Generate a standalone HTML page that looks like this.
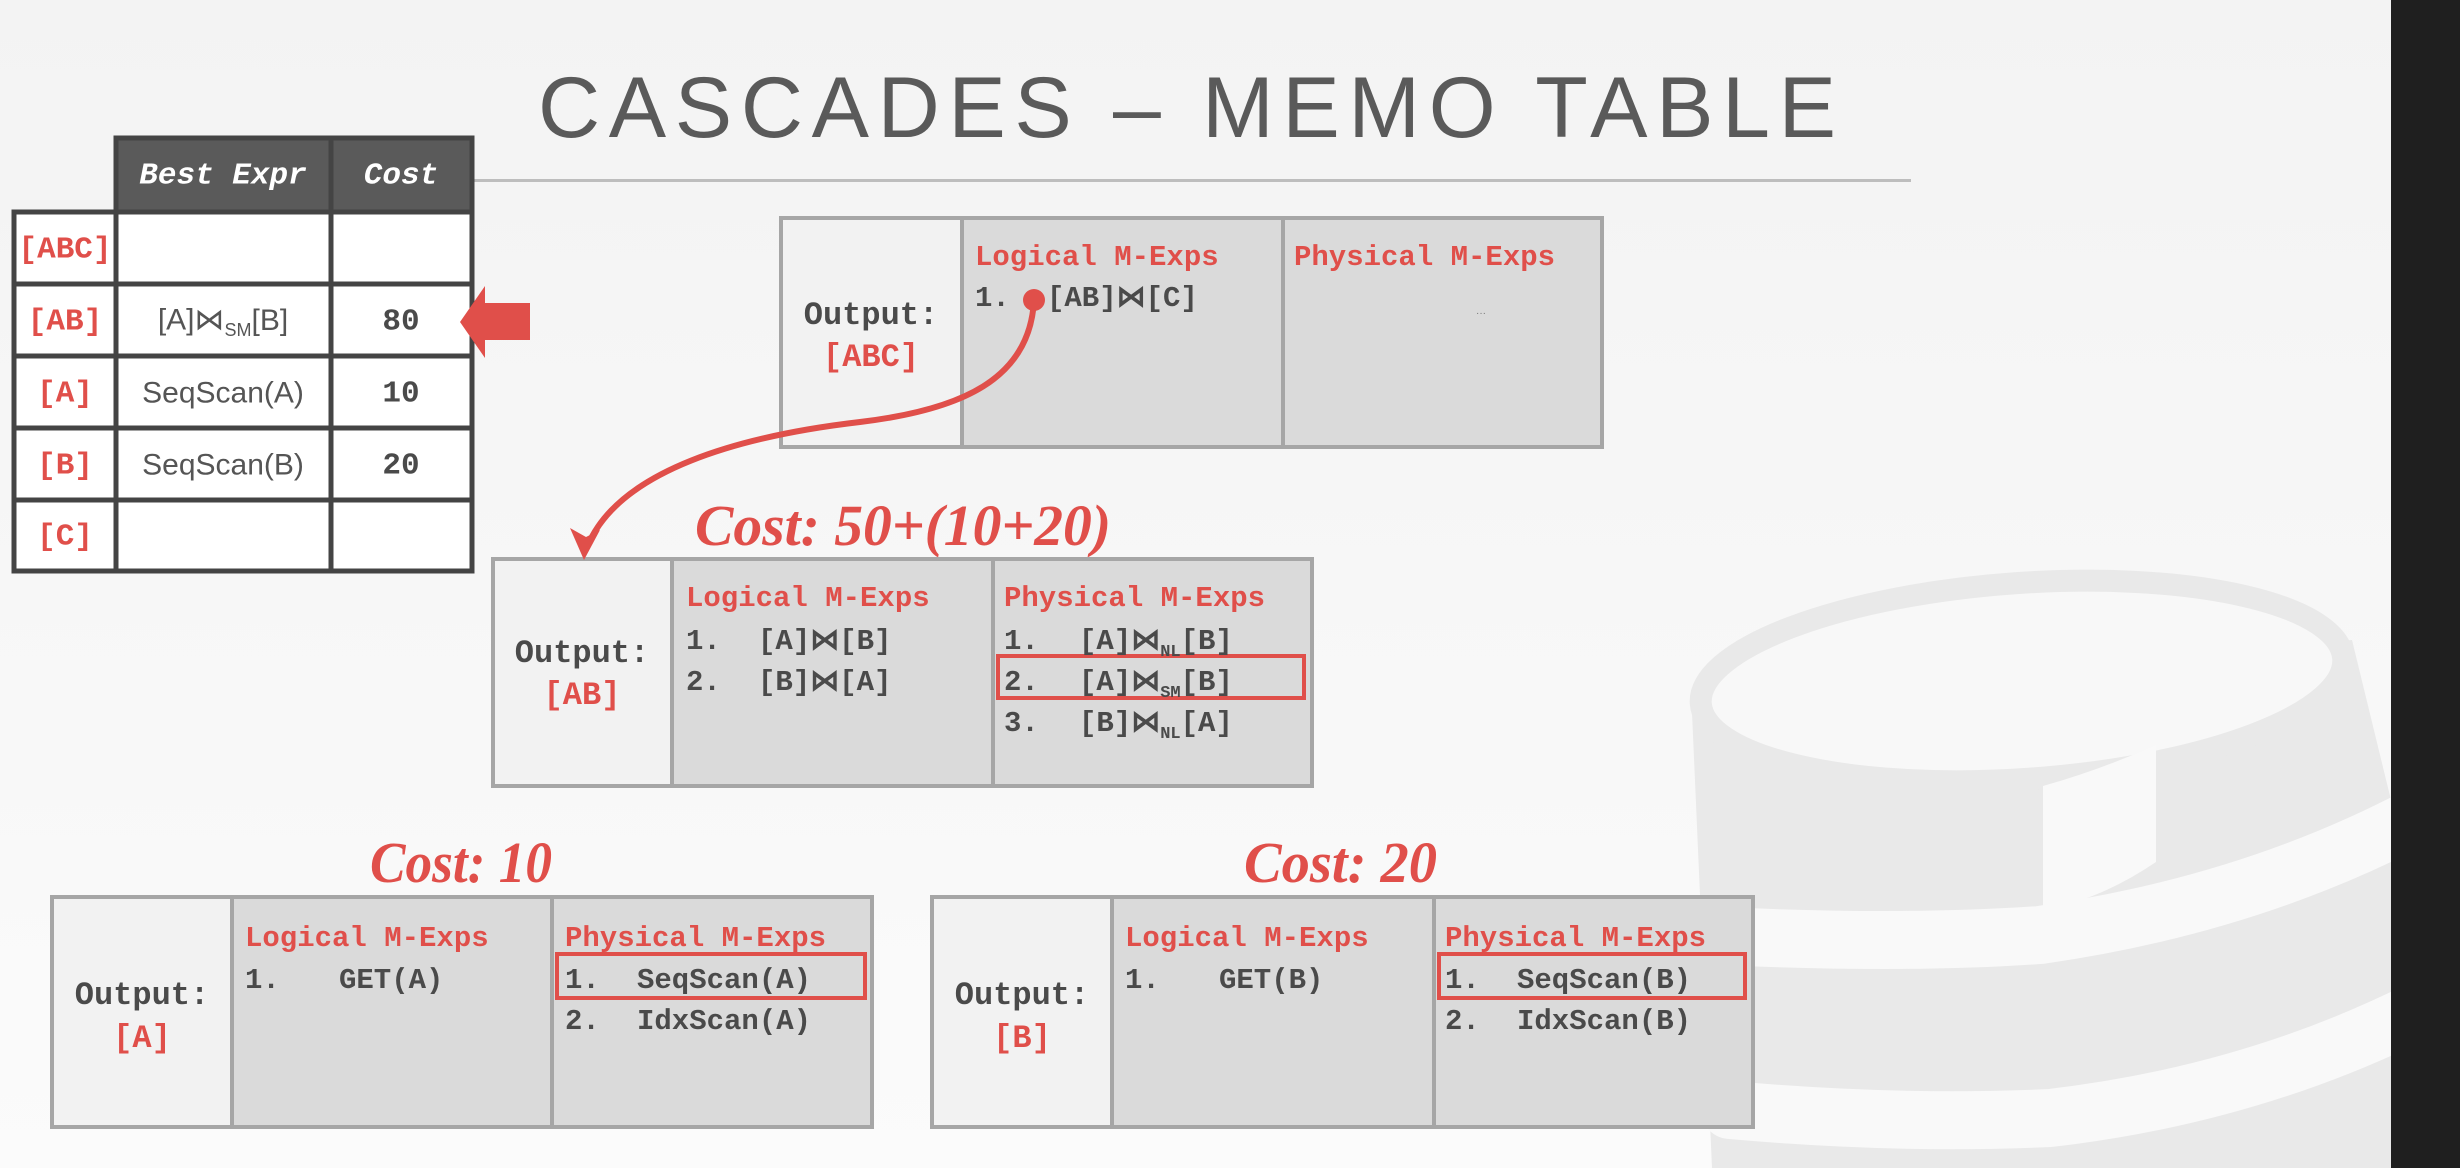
<!DOCTYPE html>
<html><head><meta charset="utf-8"><style>
html,body{margin:0;padding:0;}
body{width:2460px;height:1168px;overflow:hidden;background:#f7f7f7;}
svg{display:block;}
.m{font-family:"Liberation Mono","DejaVu Sans Mono",monospace;font-weight:bold;font-size:29px;}
.o{font-size:32px;}
.r{fill:#e04f4a;}
.g{fill:#4a4a4a;}
.c{font-family:"Liberation Serif",serif;font-weight:bold;font-style:italic;font-size:58px;fill:#e04f4a;}
</style></head><body>
<svg width="2460" height="1168" viewBox="0 0 2460 1168" xmlns="http://www.w3.org/2000/svg">
<defs>
<linearGradient id="bg" x1="0" y1="0" x2="0" y2="1"><stop offset="0" stop-color="#f3f3f3"/><stop offset="1" stop-color="#fbfbfb"/></linearGradient>
</defs>
<rect width="2460" height="1168" fill="url(#bg)"/>
<!-- watermark -->
<path d="M1691 690 L1712 1168 L2391 1168 L2391 800 L2352 640 Z" fill="#e9e9e9"/>
<ellipse cx="2022" cy="681" rx="322" ry="98" transform="rotate(-4 2022 681)" fill="#f8f8f8" stroke="#e9e9e9" stroke-width="22"/>
<g fill="none" stroke="#f9f9f9" stroke-width="58" stroke-linecap="round">
<path d="M1700 935 Q1900 945 2040 935 Q2250 905 2420 815"/>
<path d="M1730 1110 Q1900 1125 2050 1118 Q2250 1095 2420 1010"/>
</g>
<path d="M2043 786 L2043 910 Q2100 900 2156 862 L2156 745 Q2100 770 2043 786 Z" fill="#f9f9f9"/>
<rect x="2391" y="0" width="69" height="1168" fill="#1f1f1f"/>
<!-- title -->
<text x="538" y="137" textLength="1298" font-family="Liberation Sans,sans-serif" font-size="86" fill="#5a5a5a" lengthAdjust="spacing">CASCADES – MEMO TABLE</text>
<rect x="470" y="179" width="1441" height="3" fill="#bdbdbd"/>

<!-- memo table -->
<rect x="116" y="138" width="356" height="74" fill="#5a5a5a"/>
<rect x="14" y="212" width="458" height="359" fill="#fff"/>
<g stroke="#444" stroke-width="5" fill="none">
<rect x="116" y="138" width="356" height="433"/>
<rect x="14" y="212" width="458" height="359"/>
<line x1="116" y1="212" x2="116" y2="571"/>
<line x1="331" y1="138" x2="331" y2="571"/>
<line x1="14" y1="284" x2="472" y2="284"/>
<line x1="14" y1="356" x2="472" y2="356"/>
<line x1="14" y1="428" x2="472" y2="428"/>
<line x1="14" y1="500" x2="472" y2="500"/>
</g>
<g class="m" text-anchor="middle" dominant-baseline="central">
<text x="223" y="176" fill="#fff" font-style="italic" font-size="31">Best Expr</text>
<text x="401" y="176" fill="#fff" font-style="italic" font-size="31">Cost</text>
<text x="65" y="250" class="r" font-size="31">[ABC]</text>
<text x="65" y="322" class="r" font-size="31">[AB]</text>
<text x="65" y="394" class="r" font-size="31">[A]</text>
<text x="65" y="466" class="r" font-size="31">[B]</text>
<text x="65" y="537" class="r" font-size="31">[C]</text>
<text x="401" y="322" class="g" font-size="31">80</text>
<text x="401" y="394" class="g" font-size="31">10</text>
<text x="401" y="466" class="g" font-size="31">20</text>
</g>
<g font-family="Liberation Sans,DejaVu Sans,sans-serif" font-size="30" fill="#555" text-anchor="middle" dominant-baseline="central">
<text x="223" y="320">[A]⋈<tspan font-size="18" dy="10">SM</tspan><tspan dy="-10">[B]</tspan></text>
<text x="223" y="393">SeqScan(A)</text>
<text x="223" y="465">SeqScan(B)</text>
</g>
<polygon points="460,322 485,286 485,303 530,303 530,340 485,340 485,358" fill="#e04f4a"/>

<!-- ABC box -->
<rect x="781" y="218" width="181" height="229" fill="#f2f2f2"/>
<rect x="962" y="218" width="640" height="229" fill="#dadada"/>
<g stroke="#a6a6a6" stroke-width="4" fill="none"><rect x="781" y="218" width="821" height="229"/><line x1="962" y1="218" x2="962" y2="447"/><line x1="1283" y1="218" x2="1283" y2="447"/></g>
<g class="m">
<text x="871" y="324" text-anchor="middle" class="g o">Output:</text>
<text x="871" y="366" text-anchor="middle" class="r o">[ABC]</text>
<text x="975" y="265" class="r">Logical M-Exps</text>
<text x="1294" y="265" class="r">Physical M-Exps</text>
<text x="975" y="306" class="g">1.</text>
<text x="1047" y="306" class="g">[AB]⋈[C]</text>
</g>
<text x="1476" y="316" font-size="10" fill="#777" font-family="Liberation Sans,sans-serif">···</text>

<!-- AB box -->
<text x="695" y="545" class="c" textLength="416" lengthAdjust="spacingAndGlyphs">Cost: 50+(10+20)</text>
<rect x="493" y="559" width="179" height="227" fill="#f2f2f2"/>
<rect x="672" y="559" width="640" height="227" fill="#dadada"/>
<g stroke="#a6a6a6" stroke-width="4" fill="none"><rect x="493" y="559" width="819" height="227"/><line x1="672" y1="559" x2="672" y2="786"/><line x1="993" y1="559" x2="993" y2="786"/></g>
<rect x="998" y="656" width="306" height="42" fill="none" stroke="#e04f4a" stroke-width="4"/>
<g class="m">
<text x="582" y="662" text-anchor="middle" class="g o">Output:</text>
<text x="582" y="704" text-anchor="middle" class="r o">[AB]</text>
<text x="686" y="606" class="r">Logical M-Exps</text>
<text x="686" y="649" class="g">1.</text><text x="758" y="649" class="g">[A]⋈[B]</text>
<text x="686" y="690" class="g">2.</text><text x="758" y="690" class="g">[B]⋈[A]</text>
<text x="1004" y="606" class="r">Physical M-Exps</text>
<text x="1004" y="649" class="g">1.</text><text x="1079" y="649" class="g">[A]⋈<tspan font-size="17" dy="7">NL</tspan><tspan dy="-7">[B]</tspan></text>
<text x="1004" y="690" class="g">2.</text><text x="1079" y="690" class="g">[A]⋈<tspan font-size="17" dy="7">SM</tspan><tspan dy="-7">[B]</tspan></text>
<text x="1004" y="731" class="g">3.</text><text x="1079" y="731" class="g">[B]⋈<tspan font-size="17" dy="7">NL</tspan><tspan dy="-7">[A]</tspan></text>
</g>

<path d="M1034 300 C1030 380 960 410 860 422 C740 436 620 470 588 545" fill="none" stroke="#e04f4a" stroke-width="6"/>
<circle cx="1034" cy="300" r="11" fill="#e04f4a"/>
<polygon points="584,560 570,528 586,537 600,530" fill="#e04f4a"/>

<!-- A box -->
<text x="370" y="882" class="c" textLength="182" lengthAdjust="spacingAndGlyphs">Cost: 10</text>
<rect x="52" y="897" width="180" height="230" fill="#f2f2f2"/>
<rect x="232" y="897" width="640" height="230" fill="#dadada"/>
<g stroke="#a6a6a6" stroke-width="4" fill="none"><rect x="52" y="897" width="820" height="230"/><line x1="232" y1="897" x2="232" y2="1127"/><line x1="552" y1="897" x2="552" y2="1127"/></g>
<rect x="557" y="954" width="308" height="44" fill="none" stroke="#e04f4a" stroke-width="4"/>
<g class="m">
<text x="142" y="1004" text-anchor="middle" class="g o">Output:</text>
<text x="142" y="1047" text-anchor="middle" class="r o">[A]</text>
<text x="245" y="946" class="r">Logical M-Exps</text>
<text x="245" y="988" class="g">1.</text><text x="339" y="988" class="g">GET(A)</text>
<text x="565" y="946" class="r">Physical M-Exps</text>
<text x="565" y="988" class="g">1.</text><text x="637" y="988" class="g">SeqScan(A)</text>
<text x="565" y="1029" class="g">2.</text><text x="637" y="1029" class="g">IdxScan(A)</text>
</g>

<!-- B box -->
<text x="1244" y="882" class="c" textLength="193" lengthAdjust="spacingAndGlyphs">Cost: 20</text>
<rect x="932" y="897" width="180" height="230" fill="#f2f2f2"/>
<rect x="1112" y="897" width="641" height="230" fill="#dadada"/>
<g stroke="#a6a6a6" stroke-width="4" fill="none"><rect x="932" y="897" width="821" height="230"/><line x1="1112" y1="897" x2="1112" y2="1127"/><line x1="1434" y1="897" x2="1434" y2="1127"/></g>
<rect x="1439" y="954" width="306" height="44" fill="none" stroke="#e04f4a" stroke-width="4"/>
<g class="m">
<text x="1022" y="1004" text-anchor="middle" class="g o">Output:</text>
<text x="1022" y="1047" text-anchor="middle" class="r o">[B]</text>
<text x="1125" y="946" class="r">Logical M-Exps</text>
<text x="1125" y="988" class="g">1.</text><text x="1219" y="988" class="g">GET(B)</text>
<text x="1445" y="946" class="r">Physical M-Exps</text>
<text x="1445" y="988" class="g">1.</text><text x="1517" y="988" class="g">SeqScan(B)</text>
<text x="1445" y="1029" class="g">2.</text><text x="1517" y="1029" class="g">IdxScan(B)</text>
</g>
</svg>
</body></html>
